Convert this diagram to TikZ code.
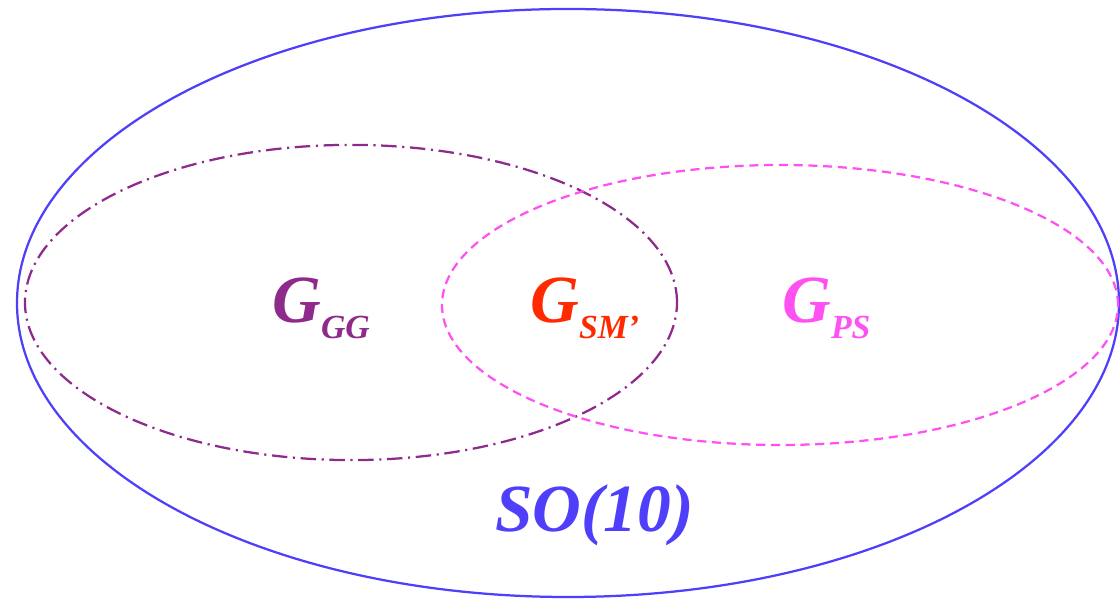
\documentclass[tikz,border=0pt]{standalone}
\usepackage{fontspec}
\setmainfont{Liberation Serif}
\usepackage{tikz}
\definecolor{soblue}{HTML}{4F3FFA}
\definecolor{ggpurple}{HTML}{8E2A8C}
\definecolor{smred}{HTML}{FF2A00}
\definecolor{psmagenta}{HTML}{FF50F2}

\newcommand{\grouplabel}[2]{\textbf{\textit{\fontsize{48}{54}\selectfont #1\raisebox{-11pt}{\fontsize{24}{30}\selectfont #2}}}}

\begin{document}
\begin{tikzpicture}[
  label/.style={inner sep=0pt, anchor=base west},
  setline/.style={line width=1.6pt}]
  \useasboundingbox (0,0) rectangle (28,15.05);
  \draw[setline, soblue] (14.2,7.475) ellipse [x radius=13.775cm, y radius=7.35cm];
  \draw[setline, ggpurple, dash pattern=on 11pt off 4pt on 1.5pt off 4pt] (8.775,7.4875) ellipse [x radius=8.15cm, y radius=3.94cm];
  \draw[setline, psmagenta, dash pattern=on 6.5pt off 4pt] (19.5,7.425) ellipse [x radius=8.45cm, y radius=3.5cm];
  \node[label, text=ggpurple] (ggl) at (6.8,6.975) {\grouplabel{G}{GG}};
  \node[label, text=smred] (sml) at (13.25,6.975) {\grouplabel{G}{SM'}};
  \node[label, text=psmagenta] (psl) at (19.55,6.975) {\grouplabel{G}{PS}};
  \node[label, text=soblue] (sol) at (12.375,1.75) {\textbf{\textit{\fontsize{48}{54}\selectfont SO(10)}}};
\end{tikzpicture}
\end{document}
